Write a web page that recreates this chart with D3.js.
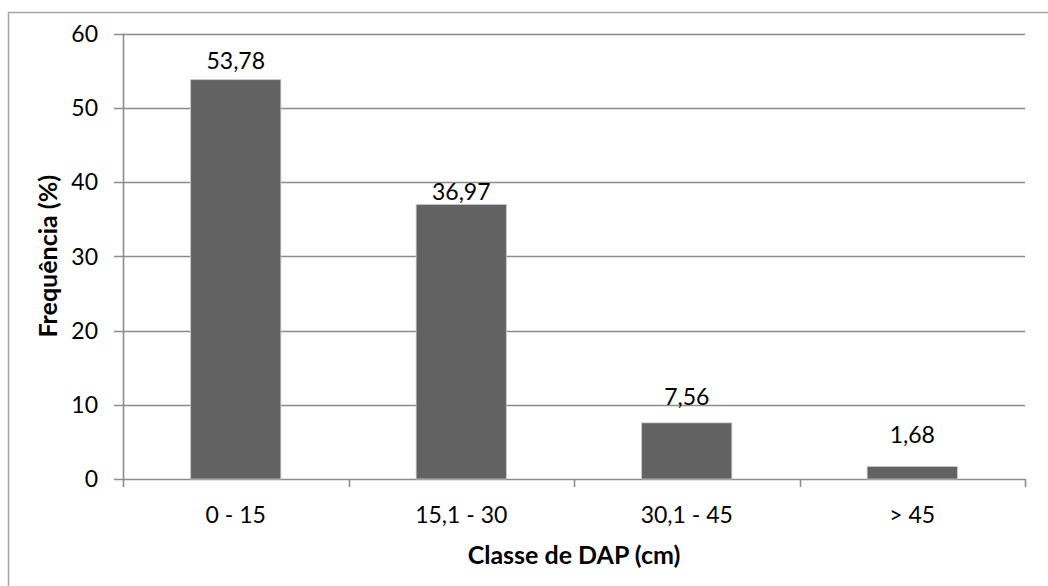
<!DOCTYPE html>
<html>
<head>
<meta charset="utf-8">
<script src="https://cdn.jsdelivr.net/npm/d3@7"></script>
<style>
  html, body { margin: 0; padding: 0; background: #fff; }
  svg text { font-family: "Lato", "Open Sans", sans-serif; fill: #000; }
</style>
</head>
<body>
<svg id="chart" width="1048" height="586"></svg>
<script>
// Distribuição diamétrica: frequência relativa por classe de DAP
const categories = ["0 - 15", "15,1 - 30", "30,1 - 45", "> 45"];
const values = [53.78, 36.97, 7.56, 1.68];
const yTicks = [0, 10, 20, 30, 40, 50, 60];
const yTitle = "Frequência (%)";
const xTitle = "Classe de DAP (cm)";

const svg = d3.select("#chart");
const W = 1048, H = 586;
const plot = { left: 123, right: 1025, top: 33.5, bottom: 479 };
// vertical gap (px) between each bar top and its value label baseline
const labelLift = [11, 4, 18, 24];
const tickFont = 23, titleFont = 25;

// outer frame of the chart area
svg.append("rect")
  .attr("x", 8.5).attr("y", 12.5)
  .attr("width", W).attr("height", H)
  .attr("fill", "#fff").attr("stroke", "#a6a6a6").attr("stroke-width", 1.5);

const x = d3.scaleBand().domain(categories).range([plot.left, plot.right]).paddingInner(0.6).paddingOuter(0.3);
const xOuter = d3.scaleBand().domain(categories).range([plot.left, plot.right]);
const y = d3.scaleLinear().domain([0, 60]).range([plot.bottom, plot.top]);

// horizontal gridlines with tick marks extending left of the axis
svg.append("g").selectAll("line").data(yTicks).join("line")
  .attr("x1", plot.left - 9).attr("x2", plot.right)
  .attr("y1", d => Math.round(y(d)) + 0.5).attr("y2", d => Math.round(y(d)) + 0.5)
  .attr("stroke", "#8c8c8c").attr("stroke-width", 1.6);

// y axis line
svg.append("line")
  .attr("x1", plot.left + 0.5).attr("x2", plot.left + 0.5)
  .attr("y1", plot.top).attr("y2", plot.bottom + 8)
  .attr("stroke", "#8c8c8c").attr("stroke-width", 1.6);

// x axis category tick marks
const xBounds = categories.map(c => xOuter(c)).concat([plot.right]);
svg.append("g").selectAll("line").data(xBounds.slice(1)).join("line")
  .attr("x1", d => Math.round(d) + 0.5).attr("x2", d => Math.round(d) + 0.5)
  .attr("y1", plot.bottom).attr("y2", plot.bottom + 8)
  .attr("stroke", "#8c8c8c").attr("stroke-width", 1.6);

// y tick labels
svg.append("g").selectAll("text").data(yTicks).join("text")
  .attr("x", plot.left - 25).attr("y", d => y(d))
  .attr("dy", "0.36em")
  .attr("text-anchor", "end")
  .attr("font-size", tickFont)
  .text(d => d);

// bars
svg.append("g").selectAll("rect").data(values).join("rect")
  .attr("x", (d, i) => x(categories[i]))
  .attr("width", x.bandwidth())
  .attr("y", d => y(d))
  .attr("height", d => y(0) - y(d))
  .attr("fill", "#626262")
  .attr("stroke", "#c8c8c8").attr("stroke-width", 0.8);

// value labels
svg.append("g").selectAll("text").data(values).join("text")
  .attr("x", (d, i) => x(categories[i]) + x.bandwidth() / 2)
  .attr("y", (d, i) => y(d) - labelLift[i])
  .attr("text-anchor", "middle")
  .attr("font-size", tickFont)
  .text(d => d.toFixed(2).replace(".", ","));

// category labels
svg.append("g").selectAll("text").data(categories).join("text")
  .attr("x", c => xOuter(c) + xOuter.bandwidth() / 2)
  .attr("y", 523)
  .attr("text-anchor", "middle")
  .attr("font-size", tickFont)
  .text(c => c);

// axis titles
svg.append("text")
  .attr("x", (plot.left + plot.right) / 2).attr("y", 564)
  .attr("text-anchor", "middle")
  .attr("font-size", titleFont).attr("font-weight", "bold")
  .text(xTitle);

svg.append("text")
  .attr("transform", `translate(57, ${(plot.top + plot.bottom) / 2}) rotate(-90)`)
  .attr("text-anchor", "middle")
  .attr("font-size", titleFont).attr("font-weight", "bold")
  .text(yTitle);
</script>
</body>
</html>
